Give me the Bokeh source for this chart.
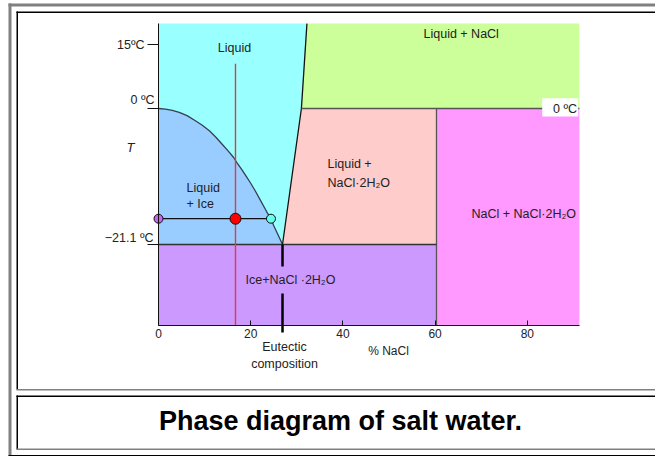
from bokeh.plotting import figure
from bokeh.models import (Range1d, LinearAxis, FixedTicker, Label, BoxAnnotation,
                          CustomJSTickFormatter)
from bokeh.embed import file_html
from bokeh.resources import INLINE

# ---------------- data ----------------
x_ticks = [0, 20, 40, 60, 80]                 # % NaCl
t_ticks = [15, 0, -21.1]                      # °C
t_tick_labels = ["15ºC", "0 ºC", "−21.1 ºC"]
T_MAX, T_MIN = 19.9, -33.7                    # shown temperature span
X_MAX = 91.3                                  # shown composition span
eut_x, eut_T = 26.9, -21.1                    # eutectic point
melt_T = 0.0
dihydrate_x = 60.3                            # NaCl·2H2O composition
# ice liquidus curve (estimated points)
ice_x = [0, 1.5, 3.0, 4.5, 6.2, 8.0, 9.5, 11.1, 12.5, 14.0, 15.0, 16.3, 17.0, 18.0,
         19.0, 20.0, 21.0, 22.0, 23.0, 23.6, 24.4, 25.0, 26.0, 26.9]
ice_T = [0, -0.1, -0.3, -0.6, -1.1, -1.9, -2.6, -3.5, -4.5, -5.7, -6.5, -7.6, -8.4, -9.4,
         -10.5, -11.6, -12.8, -14.1, -15.4, -16.2, -17.1, -18.2, -19.7, -21.1]
# salt-side liquidus
salt_liq_x = [26.9, 31.0, 32.2]
salt_liq_T = [-21.1, 0.0, 19.9]
# example cooling path and tie line
path_x = 16.7
path_T_top = 10.5
tie_T = -17.1
tie_x = [0, 16.7, 24.4]
tie_colors = ["#C066F0", "#FF0000", "#66FFEE"]
tie_sizes = [9, 11, 9]

# ---------------- layout ----------------
W, H = 655, 456
OX, OY = 0, 0
PX0, PY0 = 158, 325          # page pixel of (0 %, T_MIN)
XS = 4.61                    # px per % NaCl
Y0, S_POS, S_NEG = 217.0, 64 / 15, 136 / 21.1   # schematic temperature scale


def ty(t):
    return Y0 + t * (S_POS if t >= 0 else S_NEG)


def tys(ts):
    return [ty(t) for t in ts]


def ax(px):
    return (px - PX0) / XS


def ay(py):
    return PY0 - py


p = figure(width=W, height=H, output_backend="svg", toolbar_location=None,
           x_range=Range1d(ax(OX), ax(OX + W)), y_range=Range1d(ay(OY + H), ay(OY)),
           x_axis_type=None, y_axis_type=None, min_border=0,
           min_border_left=0, min_border_right=0, min_border_top=0, min_border_bottom=0)
p.title.visible = False
p.outline_line_color = None
p.grid.visible = False
p.background_fill_color = "white"
p.border_fill_color = "white"

FONT = "Liberation Sans"
TXT = "#222222"
BORDER = "#555555"

# ---------------- regions ----------------
C_LIQ, C_ICE, C_GREEN = "#99FFFF", "#99CCFF", "#CCFF99"
C_PINK, C_MAG, C_PURP = "#FFCCCC", "#FF99FF", "#CC99FF"

p.patch([0] + salt_liq_x + [0], tys([eut_T] + salt_liq_T + [T_MAX]),
        fill_color=C_LIQ, line_color=None)
p.patch([salt_liq_x[1], X_MAX, X_MAX, salt_liq_x[2]],
        tys([melt_T, melt_T, T_MAX, T_MAX]), fill_color=C_GREEN, line_color=None)
p.patch([eut_x, dihydrate_x, dihydrate_x, salt_liq_x[1]],
        tys([eut_T, eut_T, melt_T, melt_T]), fill_color=C_PINK, line_color=None)
p.patch([dihydrate_x, X_MAX, X_MAX, dihydrate_x],
        tys([T_MIN, T_MIN, melt_T, melt_T]), fill_color=C_MAG, line_color=None)
p.patch([0, dihydrate_x, dihydrate_x, 0],
        tys([T_MIN, T_MIN, eut_T, eut_T]), fill_color=C_PURP, line_color=None)
p.patch(ice_x + [0], tys(ice_T + [eut_T]), fill_color=C_ICE, line_color=None)

# ---------------- boundaries ----------------
p.line(ice_x, tys(ice_T), line_color="#34404E", line_width=1.3)
p.line(salt_liq_x, tys(salt_liq_T), line_color="#111111", line_width=1.3)
p.line([salt_liq_x[1], X_MAX], tys([melt_T, melt_T]), line_color=BORDER, line_width=1.3)
p.line([dihydrate_x, dihydrate_x], tys([melt_T, T_MIN]), line_color=BORDER, line_width=1.3)
p.line([0, dihydrate_x], tys([eut_T, eut_T]), line_color="#333333", line_width=1.3)
p.line([tie_x[0], tie_x[-1]], tys([tie_T, tie_T]), line_color="#111111", line_width=1.2)
# eutectic composition marker (gap left for the label)
p.segment(x0=[eut_x, eut_x], y0=[ty(eut_T), ay(293)], x1=[eut_x, eut_x],
          y1=[ay(266), ay(332)], line_color="black", line_width=2.5)
# cooling path
p.line([path_x, path_x], tys([path_T_top, T_MIN]), line_color="#E8383F", line_width=1.4)
p.scatter(tie_x, tys([tie_T] * len(tie_x)), size=tie_sizes, fill_color=tie_colors,
          line_color="#111111", line_width=1)

# ---------------- axes ----------------
xaxis = LinearAxis(ticker=FixedTicker(ticks=x_ticks), fixed_location=ty(T_MIN),
                   bounds=(0, X_MAX), major_tick_in=5, major_tick_out=0,
                   minor_tick_line_color=None, major_label_standoff=3,
                   axis_line_color="#111111", major_tick_line_color="#111111",
                   major_label_text_font=FONT, major_label_text_font_size="12px",
                   major_label_text_color=TXT)
p.add_layout(xaxis, "below")
yaxis = LinearAxis(ticker=FixedTicker(ticks=tys(t_ticks)), fixed_location=0,
                   bounds=(ty(T_MIN), ty(T_MAX)), major_tick_in=0, major_tick_out=11,
                   minor_tick_line_color=None, major_label_standoff=0,
                   axis_line_color="#111111", major_tick_line_color="#111111",
                   formatter=CustomJSTickFormatter(code="return ''"))
p.add_layout(yaxis, "left")


def box(x0, x1, y0, y1, color):
    p.add_layout(BoxAnnotation(left=ax(x0), right=ax(x1), top=ay(y0), bottom=ay(y1),
                               fill_color=color, fill_alpha=1, line_color=None))


def lab(text, px, py, align="left", size="12.5px", style="normal", color=TXT, font=FONT):
    p.add_layout(Label(x=ax(px), y=ay(py), text=text, text_align=align,
                       text_baseline="middle", text_font=font, text_font_size=size,
                       text_font_style=style, text_color=color))


# tick labels of the temperature axis
lab(t_tick_labels[0], 144, PY0 - ty(t_ticks[0]), "right")
lab(t_tick_labels[1], 154, 99, "right")
lab(t_tick_labels[2], 153, 237, "right")
lab("T", 130, 147, "center", "13px", "italic")

# region labels
lab("Liquid", 234, 47, "center")
lab("Liquid", 186, 187)
lab("+ Ice", 186, 203)
lab("Liquid +", 327, 163)
lab("NaCl·2H₂O", 327, 182)
lab("Liquid + NaCl", 423, 33)
lab("NaCl + NaCl·2H₂O", 471, 213)
lab("Ice+NaCl ·2H₂O", 245, 279)
box(541.7, 577.7, 97.7, 116, "white")
lab("0 ºC", 576.5, 108, "right")

# axis captions
lab("Eutectic", 284, 346.5, "center")
lab("composition", 284, 363, "center")
lab("% NaCl", 388, 350, "center", "12px")

# ---------------- page frame and caption ----------------
box(8, 660, 3, 6, "#808080")
box(8, 11, 3, 460, "#808080")
box(16, 660, 11, 12.5, "#000000")
box(16, 17.5, 11, 389, "#000000")
box(16, 660, 388.5, 390, "#808080")
box(16, 660, 395, 396.5, "#000000")
box(16, 17.5, 395, 449, "#000000")
box(16, 660, 448, 449.5, "#808080")
box(8, 660, 454.5, 456, "#000000")
lab("Phase diagram of salt water.", 340, 420, "center", "27px", "bold", "#000000")

open("out.html", "w").write(file_html(p, INLINE))
